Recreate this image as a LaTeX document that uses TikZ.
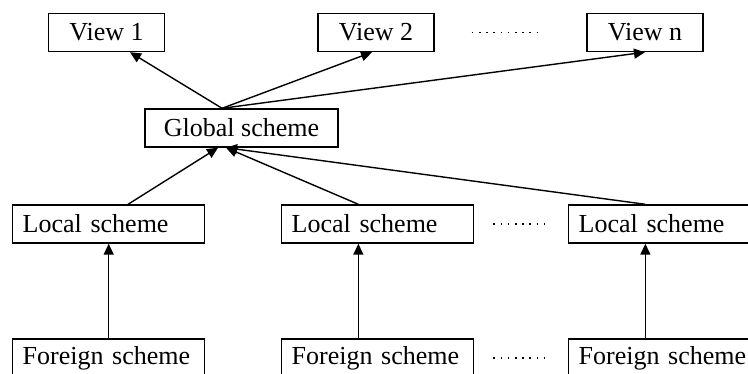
\documentclass[tikz,border=0pt]{standalone}
\usepackage{fontspec}
\setmainfont{Liberation Serif}
\usetikzlibrary{arrows.meta,calc}
\begin{document}
\begin{tikzpicture}[x=1pt,y=-1pt,line width=1.4pt,font=\fontsize{26}{30}\selectfont]
	\useasboundingbox (0,0)rectangle(748,374);
	\clip (0,0)rectangle(748,374);
	\tikzset{
		box/.style={draw,minimum height=38pt,inner xsep=0pt,inner ysep=0pt},
		viewbox/.style={box,minimum width=116pt},
		schemebox/.style={box,anchor=west,text width=172pt,inner xsep=10pt,align=left},
		conn/.style={-{Triangle[length=11pt,width=10pt]}},
		dots/.style={line width=1.8pt,dash pattern=on 1.6pt off 5.6pt}
	}
	% views
	\node[viewbox] (V1) at (106.5,32.5) {View 1};
	\node[viewbox] (V2) at (376,32.5) {View 2};
	\node[viewbox] (Vn) at (645,32.5) {View n};
	% global scheme
	\node[box,minimum width=193pt] (G) at (241.5,128) {Global scheme};
	% local and foreign schemes
	\foreach \n/\x in {1/12,2/281,3/568}{
		\node[schemebox] (L\n) at (\x,224) {Local scheme};
		\node[schemebox] (F\n) at (\x,358) {Foreign scheme};
	}
	\coordinate (Gtop) at ($(G.north west)!.4!(G.north east)$);
	\coordinate (Gbot) at ($(G.south west)!.4!(G.south east)$);
	\draw[conn] (Gtop)--($(V1.south west)!.7!(V1.south east)$);
	\draw[conn] (Gtop)--([xshift=-4pt]V2.south);
	\draw[conn] (Gtop)--(Vn.south);
	\draw[conn] ($(L1.north west)!.6!(L1.north east)$)--([xshift=-4pt]Gbot);
	\draw[conn] ($(L2.north west)!.4!(L2.north east)$)--([xshift=4pt]Gbot);
	\draw[conn] ($(L3.north west)!.4!(L3.north east)$)--([xshift=4pt]Gbot);
	\draw[conn] (F1.north)--(L1.south);
	\foreach \n in {2,3}
	\draw[conn] ($(F\n.north west)!.4!(F\n.north east)$)--($(L\n.south west)!.4!(L\n.south east)$);
	% dots
	\draw[dots] ([xshift=37pt]V2.east)--([xshift=-43pt]Vn.west);
	\draw[dots] ([xshift=19pt]L2.east)--([xshift=-21pt]L3.west);
	\draw[dots] ([xshift=19pt]F2.east)--([xshift=-21pt]F3.west);
\end{tikzpicture}
\end{document}
